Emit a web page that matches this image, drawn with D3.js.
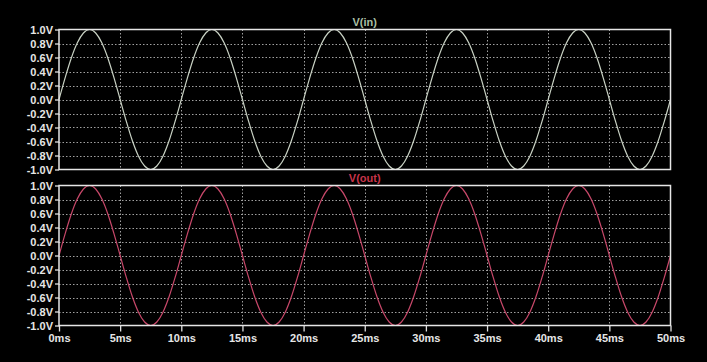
<html>
<head>
<title>V(in) / V(out)</title>
<style>
  body { margin: 0; background: #000; }
  svg { display: block; background: #000; }
  .tick text { font-family: "Liberation Sans", Arial, sans-serif; font-weight: bold; font-size: 11px; fill: #e6e6e6; }
  .title { font-family: "Liberation Sans", Arial, sans-serif; font-weight: bold; font-size: 11px; }
</style>
</head>
<body>
<svg id="svg" width="707" height="362"></svg>
<script src="https://d3js.org/d3.v7.min.js"></script>
<script>
// sample times (ms)
const timeMs = [
  0, 0.5, 1, 1.5, 2, 2.5, 3, 3.5, 4, 4.5, 5, 5.5, 6, 6.5, 7, 7.5, 8, 8.5, 9, 9.5,
  10, 10.5, 11, 11.5, 12, 12.5, 13, 13.5, 14, 14.5, 15, 15.5, 16, 16.5, 17, 17.5, 18, 18.5, 19, 19.5,
  20, 20.5, 21, 21.5, 22, 22.5, 23, 23.5, 24, 24.5, 25, 25.5, 26, 26.5, 27, 27.5, 28, 28.5, 29, 29.5,
  30, 30.5, 31, 31.5, 32, 32.5, 33, 33.5, 34, 34.5, 35, 35.5, 36, 36.5, 37, 37.5, 38, 38.5, 39, 39.5,
  40, 40.5, 41, 41.5, 42, 42.5, 43, 43.5, 44, 44.5, 45, 45.5, 46, 46.5, 47, 47.5, 48, 48.5, 49, 49.5,
  50
];
// V(in)
const vIn = [
  0, 0.31, 0.59, 0.81, 0.95, 1.0, 0.95, 0.81, 0.59, 0.31, 0, -0.31, -0.59, -0.81, -0.95, -1.0, -0.95, -0.81, -0.59, -0.31,
  0, 0.31, 0.59, 0.81, 0.95, 1.0, 0.95, 0.81, 0.59, 0.31, 0, -0.31, -0.59, -0.81, -0.95, -1.0, -0.95, -0.81, -0.59, -0.31,
  0, 0.31, 0.59, 0.81, 0.95, 1.0, 0.95, 0.81, 0.59, 0.31, 0, -0.31, -0.59, -0.81, -0.95, -1.0, -0.95, -0.81, -0.59, -0.31,
  0, 0.31, 0.59, 0.81, 0.95, 1.0, 0.95, 0.81, 0.59, 0.31, 0, -0.31, -0.59, -0.81, -0.95, -1.0, -0.95, -0.81, -0.59, -0.31,
  0, 0.31, 0.59, 0.81, 0.95, 1.0, 0.95, 0.81, 0.59, 0.31, 0, -0.31, -0.59, -0.81, -0.95, -1.0, -0.95, -0.81, -0.59, -0.31,
  0
];
// V(out)
const vOut = [
  0, 0.31, 0.59, 0.81, 0.95, 1.0, 0.95, 0.81, 0.59, 0.31, 0, -0.31, -0.59, -0.81, -0.95, -1.0, -0.95, -0.81, -0.59, -0.31,
  0, 0.31, 0.59, 0.81, 0.95, 1.0, 0.95, 0.81, 0.59, 0.31, 0, -0.31, -0.59, -0.81, -0.95, -1.0, -0.95, -0.81, -0.59, -0.31,
  0, 0.31, 0.59, 0.81, 0.95, 1.0, 0.95, 0.81, 0.59, 0.31, 0, -0.31, -0.59, -0.81, -0.95, -1.0, -0.95, -0.81, -0.59, -0.31,
  0, 0.31, 0.59, 0.81, 0.95, 1.0, 0.95, 0.81, 0.59, 0.31, 0, -0.31, -0.59, -0.81, -0.95, -1.0, -0.95, -0.81, -0.59, -0.31,
  0, 0.31, 0.59, 0.81, 0.95, 1.0, 0.95, 0.81, 0.59, 0.31, 0, -0.31, -0.59, -0.81, -0.95, -1.0, -0.95, -0.81, -0.59, -0.31,
  0
];
const xTicks = [0, 5, 10, 15, 20, 25, 30, 35, 40, 45, 50];
const yTicks = [-1.0, -0.8, -0.6, -0.4, -0.2, 0.0, 0.2, 0.4, 0.6, 0.8, 1.0];

const svg = d3.select("#svg");
const x = d3.scaleLinear().domain([0, 50]).range([59, 670.5]);

const panes = [
  { name: "V(in)", values: vIn, top: 29.5, bottom: 169.5, line: "#c9d2c4", label: "#a9bfa4", xAxis: false },
  { name: "V(out)", values: vOut, top: 185.5, bottom: 325.5, line: "#c8486a", label: "#c8344a", xAxis: true }
];

panes.forEach(function(p) {
  const y = d3.scaleLinear().domain([-1, 1]).range([p.bottom, p.top]);
  const g = svg.append("g");

  // grid
  g.selectAll(".hgrid").data(yTicks.slice(1, -1)).enter().append("line")
    .attr("x1", x(0)).attr("x2", x(50))
    .attr("y1", function(d) { return Math.round(y(d)) + 0.5; })
    .attr("y2", function(d) { return Math.round(y(d)) + 0.5; })
    .attr("stroke", "#a0a0a0").attr("stroke-dasharray", "1.5,2");
  g.selectAll(".vgrid").data(xTicks.slice(1, -1)).enter().append("line")
    .attr("x1", function(d) { return Math.round(x(d)) + 0.5; })
    .attr("x2", function(d) { return Math.round(x(d)) + 0.5; })
    .attr("y1", p.top).attr("y2", p.bottom)
    .attr("stroke", "#a0a0a0").attr("stroke-dasharray", "1.5,2");

  // trace
  const line = d3.line()
    .x(function(d, i) { return x(timeMs[i]); })
    .y(function(d) { return y(d); })
    .curve(d3.curveMonotoneX);
  g.append("path").datum(p.values)
    .attr("d", line)
    .attr("fill", "none")
    .attr("stroke", p.line)
    .attr("stroke-width", 1.2);

  // left axis
  const ya = g.append("g").attr("transform", "translate(" + x(0) + ",0)")
    .call(d3.axisLeft(y).tickValues(yTicks).tickSize(4).tickPadding(2)
      .tickFormat(function(d) { return d.toFixed(1) + "V"; }));
  ya.select(".domain").remove();
  ya.selectAll(".tick line").attr("stroke", "#e0e0e0").attr("stroke-width", 1.3);

  if (p.xAxis) {
    const xa = g.append("g").attr("transform", "translate(0," + p.bottom + ")")
      .call(d3.axisBottom(x).tickValues(xTicks).tickSize(6).tickPadding(3)
        .tickFormat(function(d) { return d + "ms"; }));
    xa.select(".domain").remove();
    xa.selectAll(".tick line").attr("stroke", "#e0e0e0").attr("stroke-width", 1.3);
  }

  // frame
  g.append("rect")
    .attr("x", x(0)).attr("y", p.top)
    .attr("width", x(50) - x(0)).attr("height", p.bottom - p.top)
    .attr("fill", "none").attr("stroke", "#e6e6e6").attr("stroke-width", 1.5);

  // title
  g.append("text").attr("class", "title")
    .attr("x", (x(0) + x(50)) / 2).attr("y", p.top - 4)
    .attr("text-anchor", "middle")
    .attr("fill", p.label)
    .text(p.name);
});
</script>
</body>
</html>
